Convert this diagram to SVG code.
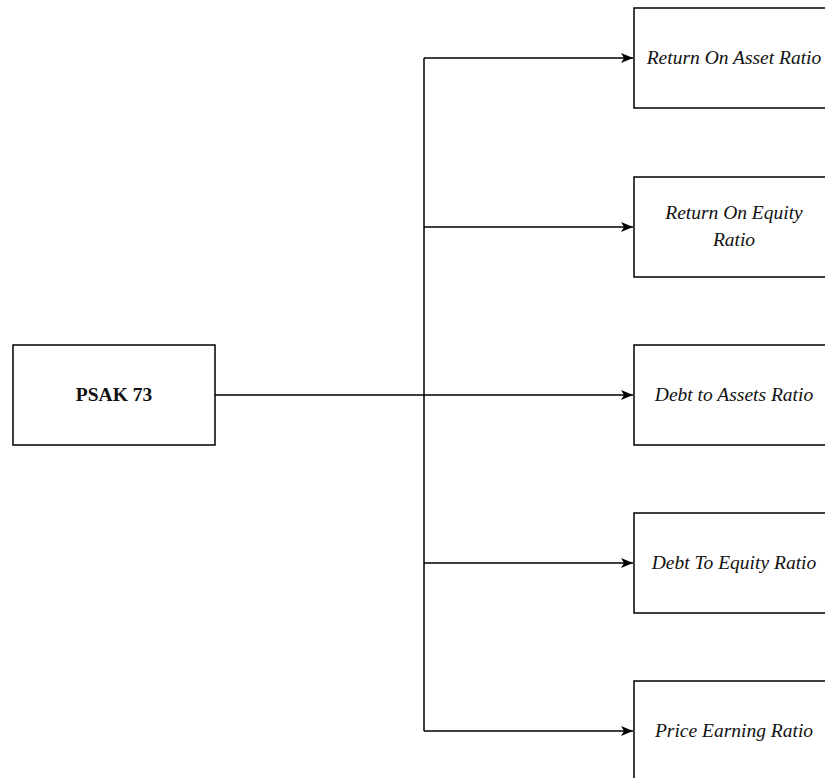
<svg xmlns="http://www.w3.org/2000/svg" width="825" height="778" viewBox="0 0 825 778">
<style>
.box{fill:#fff;stroke:#000;stroke-width:1.5}
.lbl{font-family:"Liberation Serif","Times New Roman",serif;font-size:19.5px;font-style:italic;fill:#111;text-anchor:middle}
.bold{font-family:"Liberation Serif","Times New Roman",serif;font-size:19.5px;font-weight:bold;fill:#111;text-anchor:middle}
.edge{fill:none;stroke:#000;stroke-width:1.5}
</style>
<defs>
<marker id="arr" markerWidth="12" markerHeight="12" refX="12" refY="6" orient="auto" markerUnits="userSpaceOnUse">
<path d="M0,1 L12,6 L0,11 L3,6 Z" fill="#000"/>
</marker>
</defs>
<rect width="825" height="778" fill="#fff"/>
<g id="connectors">
<path class="edge" d="M215,395 H633" marker-end="url(#arr)"/>
<path class="edge" d="M424,58 V731"/>
<path class="edge" d="M424,58 H633" marker-end="url(#arr)"/>
<path class="edge" d="M424,227 H633" marker-end="url(#arr)"/>
<path class="edge" d="M424,563 H633" marker-end="url(#arr)"/>
<path class="edge" d="M424,731 H633" marker-end="url(#arr)"/>
</g>
<g id="psak">
<rect class="box" x="13" y="345" width="202" height="100"/>
<text class="bold" x="114" y="401">PSAK 73</text>
</g>
<g id="roa">
<rect class="box" x="634" y="8" width="200" height="100"/>
<text class="lbl" x="734" y="64">Return On Asset Ratio</text>
</g>
<g id="roe">
<rect class="box" x="634" y="177" width="200" height="100"/>
<text class="lbl" x="734" y="219">Return On Equity</text>
<text class="lbl" x="734" y="246">Ratio</text>
</g>
<g id="dar">
<rect class="box" x="634" y="345" width="200" height="100"/>
<text class="lbl" x="734" y="401">Debt to Assets Ratio</text>
</g>
<g id="der">
<rect class="box" x="634" y="513" width="200" height="100"/>
<text class="lbl" x="734" y="569">Debt To Equity Ratio</text>
</g>
<g id="per">
<rect class="box" x="634" y="681" width="200" height="100"/>
<text class="lbl" x="734" y="737">Price Earning Ratio</text>
</g>
</svg>
